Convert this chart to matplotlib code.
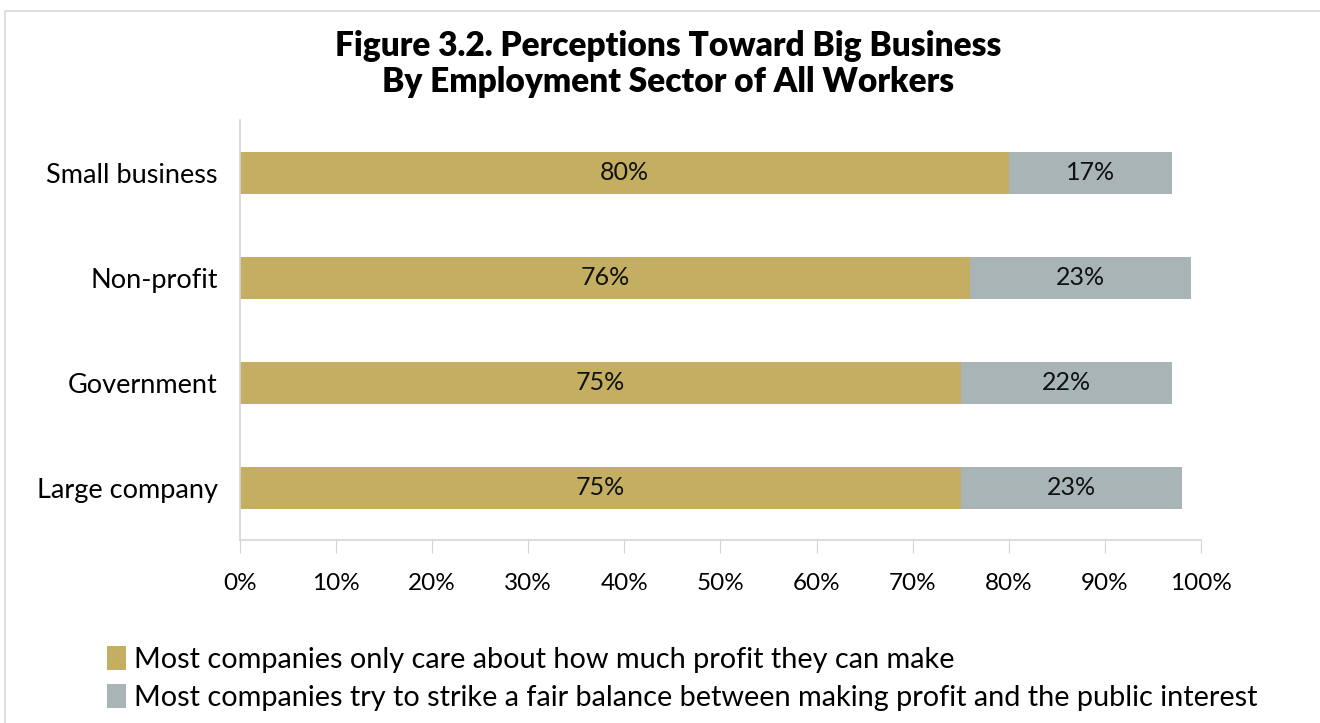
import matplotlib
matplotlib.use("Agg")
import matplotlib.pyplot as plt
from matplotlib.patches import Rectangle

sectors = ["Small business", "Non-profit", "Government", "Large company"]
profit_only = [80, 76, 75, 75]
fair_balance = [17, 23, 22, 23]
series_labels = [
    "Most companies only care about how much profit they can make",
    "Most companies try to strike a fair balance between making profit and the public interest",
]
ticks = list(range(0, 101, 10))

GOLD = "#c3ae62"
GREY = "#a8b4b6"
AXIS = "#d4d4d4"

plt.rcParams["font.family"] = ["Lato", "DejaVu Sans"]

fig = plt.figure(figsize=(13.2, 7.23), dpi=100)
ax = fig.add_axes([0.1818, 0.2531, 0.7280, 0.5809])

# frame around the figure panel
fig.patches.append(Rectangle((0.004, -0.01), 1.2, 0.995, transform=fig.transFigure,
                             fill=False, edgecolor="#d8d8d8", linewidth=1.2))

ypos = range(len(sectors))
ax.barh(ypos, profit_only, height=0.4, color=GOLD, label=series_labels[0])
ax.barh(ypos, fair_balance, left=profit_only, height=0.4, color=GREY,
        label=series_labels[1])

for y, a, b in zip(ypos, profit_only, fair_balance):
    ax.text(a / 2, y, f"{a}%", ha="center", va="center", fontsize=18, color="#111111")
    ax.text(a + b / 2, y, f"{b}%", ha="center", va="center", fontsize=18, color="#111111")

ax.set_xlim(0, 100)
ax.set_ylim(len(sectors) - 0.5, -0.5)
ax.set_yticks(list(ypos))
ax.set_yticklabels(sectors, fontsize=19.5)
ax.set_xticks(ticks)
ax.set_xticklabels([f"{t}%" for t in ticks], fontsize=17.5)
ax.tick_params(axis="y", length=0, pad=16)
ax.tick_params(axis="x", length=9, color=AXIS, pad=15)

for side in ["top", "right"]:
    ax.spines[side].set_visible(False)
for side in ["left", "bottom"]:
    ax.spines[side].set_color(AXIS)
    ax.spines[side].set_linewidth(1.2)

fig.text(0.506, 0.937, "Figure 3.2. Perceptions Toward Big Business", ha="center",
         va="center", fontsize=24, fontweight="heavy")
fig.text(0.506, 0.887, "By Employment Sector of All Workers", ha="center",
         va="center", fontsize=24, fontweight="heavy")

fig.legend(loc="upper left", bbox_to_anchor=(0.070, 0.127), frameon=False,
           fontsize=20.8, handlelength=0.65, handleheight=0.9, handletextpad=0.3,
           labelspacing=0.38, borderpad=0)

fig.savefig("out.png", dpi=100)
